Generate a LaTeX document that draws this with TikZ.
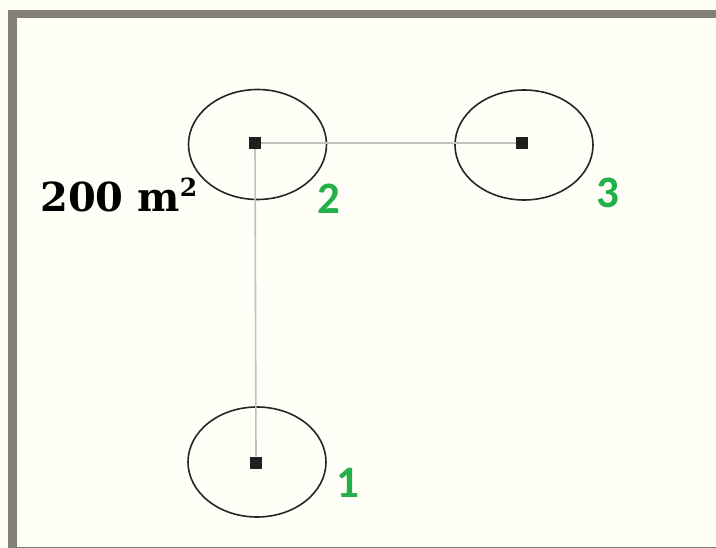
\documentclass[tikz,border=0pt]{standalone}
\usepackage{fontspec}
\usetikzlibrary{shapes.geometric}
\newfontfamily\labelfont{DejaVu Serif}
\newfontfamily\numfont{Carlito}
\definecolor{bgc}{HTML}{FFFEF7}
\definecolor{framec}{HTML}{838078}
\definecolor{linkc}{HTML}{C4C0BC}
\definecolor{ringc}{HTML}{262626}
\definecolor{numc}{HTML}{22B04A}
\begin{document}
\begin{tikzpicture}[x=1pt,y=-1pt,
  ring/.style={draw=ringc,line width=1.6pt,ellipse,minimum width=138pt,minimum height=110pt,inner sep=0pt},
  site/.style={fill=black!88,minimum size=12.5pt,inner sep=0pt},
  link/.style={draw=linkc,line width=1.6pt},
  numlabel/.style={text=numc,font=\numfont\bfseries\fontsize{45}{45}\selectfont,inner sep=0pt},
  arealabel/.style={font=\labelfont\bfseries\fontsize{40}{40}\selectfont,inner sep=0pt,anchor=base west}]
\useasboundingbox (0,0) rectangle (716,548);
\clip (0,0) rectangle (716,548);
\fill[bgc] (0,0) rectangle (716,548);
\draw[framec,line width=8.5pt] (12.5,14) rectangle (730,551);
% sites
\node[site] (s2) at (255,143) {};
\node[site] (s3) at (522,143) {};
\node[site] (s1) at (256,463) {};
% rings
\node[ring] (r2) at (257.5,144.5) {};
\node[ring] (r3) at (524,145) {};
\node[ring] (r1) at (257,462) {};
% links
\draw[link] (s2.center) -- (s3.west);
\draw[link] (s2.center) -- (s1.north);
\node[site] at (s2) {};
% labels
\node[numlabel] (n2) at (329,199) {2};
\node[numlabel] (n3) at (608,193) {3};
\node[numlabel] (n1) at (348,483) {1};
\node[arealabel] (area) at (40,212) {200 m\raisebox{0.38em}{\fontsize{25}{25}\selectfont 2}};
\end{tikzpicture}
\end{document}
